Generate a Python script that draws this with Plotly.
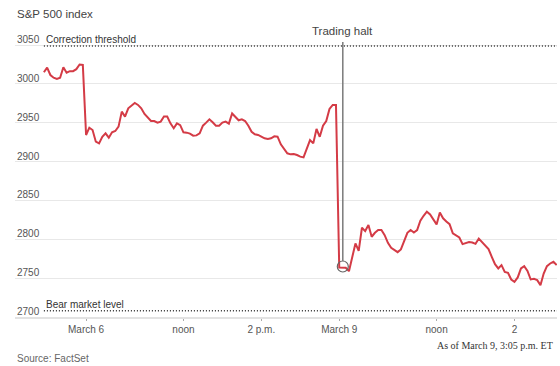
import plotly.graph_objects as go

# ---- data (S&P 500, 5-minute readings) ----
march5_values = [3015, 3021, 3011.5, 3008, 3006.5, 3008, 3021.5, 3014.5, 3016.5, 3016.5,
                 3019, 3025, 3024.5]
march6_values = [2934.3, 2943.7, 2940.7, 2925.7, 2923.5, 2932, 2936.4, 2930.8, 2937.7, 2939.4,
                 2945, 2964.4, 2958, 2968.6, 2972, 2975.5, 2973, 2968.6, 2961.3, 2956.6,
                 2952.3, 2952.3, 2950.2, 2951.5, 2958, 2958, 2949.3, 2943, 2949.3, 2947,
                 2937.7, 2937.3, 2936, 2933.4, 2933.8, 2936.4, 2946.3, 2950.2, 2954.5, 2950.6,
                 2946.3, 2946.3, 2950.2, 2951.5, 2948.9, 2962, 2958, 2953.2, 2954.5, 2952.3,
                 2946.3, 2938.5, 2935.2, 2934.3, 2932.1, 2930, 2929.1, 2930, 2932.6, 2932.1,
                 2922.3, 2916.2, 2910.7, 2909.4, 2909.8, 2908.5, 2906.4, 2905.5, 2917.1, 2927.8,
                 2923.5, 2942, 2932, 2946.3, 2952.3, 2967.8, 2973, 2973]
march9_values = [2763.8, 2763.8, 2763.4, 2759, 2775.4, 2794.7, 2785.2, 2814.9, 2810.6, 2818.3,
                 2803.3, 2808.4, 2811.9, 2811.9, 2805.4, 2795.5, 2789.1, 2786.1, 2783.5, 2787,
                 2797.7, 2808.4, 2811.9, 2808.8, 2811.9, 2823.9, 2830.3, 2835.5, 2832.1, 2825.6,
                 2819.2, 2834.4, 2827, 2823, 2819.5, 2807.6, 2805, 2802.4, 2793.8, 2794.7,
                 2796.4, 2795.9, 2794.2, 2801, 2796, 2792.5, 2787.4, 2777.5, 2768, 2762.5,
                 2766.8, 2758.1, 2756.8, 2748.3, 2745.3, 2750.9, 2762.5, 2765.5, 2759.4, 2748.3,
                 2749.1, 2747.4, 2741, 2756, 2765.5, 2768.9, 2771, 2766.8]

tick_positions = [0, 30, 54, 78, 108, 132]
tick_labels = ["March 6", "noon", "2 p.m.", "March 9", "noon", "2"]
y_ticks = [2700, 2750, 2800, 2850, 2900, 2950, 3000, 3050]

correction_level = 3049
bear_level = 2708
halt_index = 79.1
halt_value = 2765

values = march5_values + march6_values + march9_values
start_index = -len(march5_values)
x_idx = list(range(start_index, start_index + len(values)))

# ---- layout geometry ----
W, H = 560, 366
L, R, T, B = 15, 3, 42, 49
PW, PH = W - L - R, H - T - B
x_range = [-21.9, 145.1]
y_range = [2700, 3054]


def px_x(p):
    return (p - L) / PW


def px_y(p):
    return (T + PH - p) / PH


SANS = "Liberation Sans, Arial, Helvetica, sans-serif"
SERIF = "Liberation Serif, Times New Roman, serif"
RED = "#d43b46"

fig = go.Figure()
fig.add_trace(go.Scatter(x=x_idx, y=values, mode="lines",
                         line=dict(color=RED, width=2), hoverinfo="skip"))
fig.add_trace(go.Scatter(x=[halt_index], y=[halt_value], mode="markers",
                         marker=dict(symbol="circle-open", size=11, color="#666",
                                     line=dict(width=1.2)),
                         hoverinfo="skip"))

shapes = [
    dict(type="line", xref="x", yref="y", x0=start_index, x1=x_range[1],
         y0=correction_level, y1=correction_level,
         line=dict(color="#333", width=1.5, dash="1px,2px")),
    dict(type="line", xref="x", yref="y", x0=start_index, x1=x_range[1],
         y0=bear_level, y1=bear_level,
         line=dict(color="#333", width=1.5, dash="1px,2px")),
    dict(type="line", xref="x", yref="y", x0=halt_index, x1=halt_index,
         y0=halt_value + 7, y1=y_range[1],
         line=dict(color="#7a7a7a", width=1.5)),
]

annotations = []
for v in y_ticks:
    annotations.append(dict(xref="paper", yref="y", x=0, y=v, xanchor="left",
                            yanchor="middle", yshift=5.5, showarrow=False,
                            text=str(v), font=dict(family=SANS, size=10, color="#555")))
annotations += [
    dict(xref="paper", yref="paper", x=px_x(15), y=px_y(13.5), xanchor="left",
         yanchor="middle", showarrow=False, text="S&P 500 index",
         font=dict(family=SANS, size=11.5, color="#444")),
    dict(xref="x", yref="y", x=start_index, y=correction_level, xanchor="left",
         yanchor="middle", yshift=6, showarrow=False, text="Correction threshold",
         font=dict(family=SANS, size=10, color="#333")),
    dict(xref="x", yref="y", x=start_index, y=bear_level, xanchor="left",
         yanchor="middle", yshift=6.5, showarrow=False, text="Bear market level",
         font=dict(family=SANS, size=10, color="#333")),
    dict(xref="x", yref="paper", x=halt_index, y=px_y(31), xanchor="center",
         yanchor="middle", showarrow=False, text="Trading halt",
         font=dict(family=SANS, size=11.5, color="#444")),
    dict(xref="paper", yref="paper", x=px_x(555), y=px_y(345), xanchor="right",
         yanchor="middle", showarrow=False, text="As of March 9, 3:05 p.m. ET",
         font=dict(family=SERIF, size=10, color="#333")),
    dict(xref="paper", yref="paper", x=px_x(15), y=px_y(358), xanchor="left",
         yanchor="middle", showarrow=False, text="Source: FactSet",
         font=dict(family=SANS, size=10, color="#666")),
]

fig.update_layout(
    width=W, height=H,
    margin=dict(l=L, r=R, t=T, b=B, pad=0),
    paper_bgcolor="white", plot_bgcolor="white",
    showlegend=False,
    shapes=shapes,
    annotations=annotations,
    xaxis=dict(range=x_range, tickvals=tick_positions, ticktext=tick_labels,
               ticks="outside", ticklen=2, tickcolor="#aaa", tickwidth=1,
               tickfont=dict(family=SANS, size=10, color="#555"),
               showgrid=False, zeroline=False, showline=True,
               linecolor="#e2e2e2", linewidth=1.5, fixedrange=True),
    yaxis=dict(range=y_range, tickvals=y_ticks, showticklabels=False,
               showgrid=True, gridcolor="#e8e8e8", gridwidth=1,
               zeroline=False, fixedrange=True),
)

fig.write_html("out.html", include_plotlyjs=True,
               config={"displayModeBar": False, "staticPlot": True},
               post_script="document.body.style.margin='0';")
